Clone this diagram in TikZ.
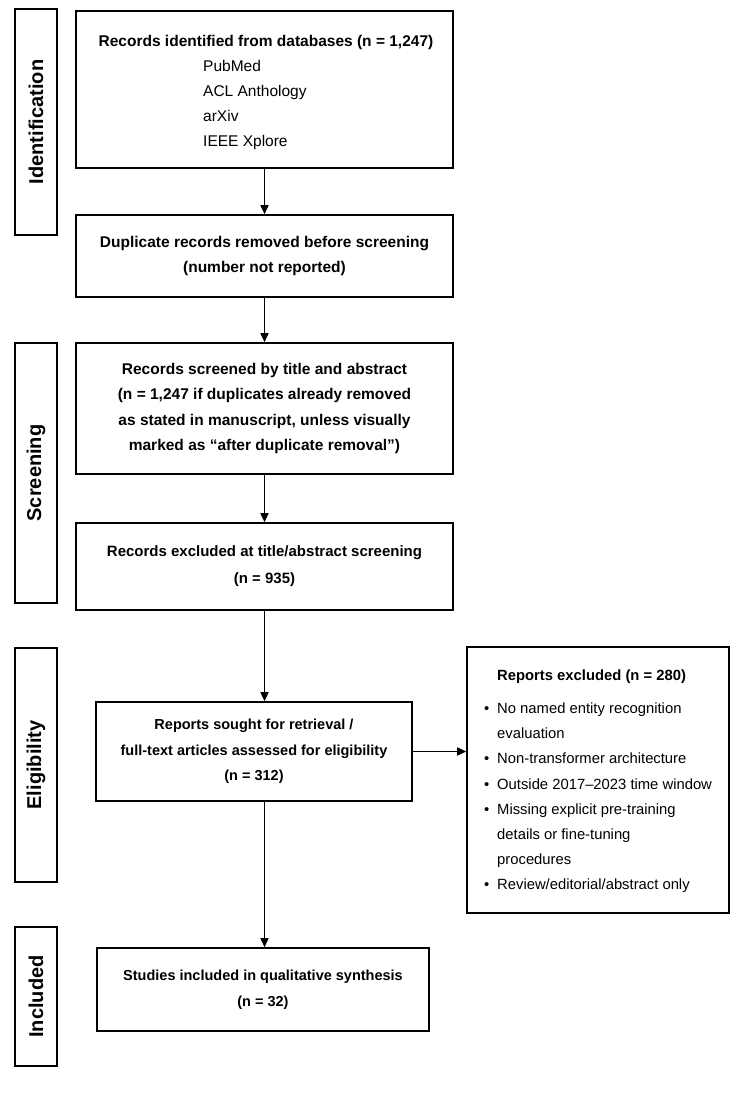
\documentclass[tikz,border=0pt]{standalone}
\usepackage{fontspec}
\setmainfont{Liberation Sans}
\usetikzlibrary{arrows.meta,positioning}
\newcommand{\boxfont}{\bfseries\fontsize{15.5}{25.5}\selectfont}
\newcommand{\smallboxfont}{\bfseries\fontsize{14.5}{25.5}\selectfont}
\newcommand{\listfont}{\fontsize{15.5}{24.7}\selectfont}
\begin{document}
\begin{tikzpicture}[x=1pt,y=-1pt,
  stage/.style={draw, line width=1.6pt, align=center, inner sep=0pt, font=\boxfont},
  phase/.style={draw, line width=1.6pt, rotate=90, minimum height=42pt, inner sep=0pt, font=\bfseries\fontsize{20}{24}\selectfont},
  arr/.style={draw, line width=1.6pt, -{Triangle[length=9pt,width=8pt]}}]
\useasboundingbox (0,0) rectangle (738,1107);

\node[phase, minimum width=226pt] (ident) at (36,122) {Identification};
\node[phase, minimum width=260pt] (screen) at (36,473) {Screening};
\node[phase, minimum width=234pt] (elig) at (36,765) {Eligibility};
\node[phase, minimum width=139pt] (incl) at (36,996.5) {Included};

\node[stage, minimum width=377pt, minimum height=157pt] (db) at (264.5,89.5) {};
\node[font=\boxfont] (dbtitle) at (266,42) {Records identified from databases (n = 1,247)};
\node[anchor=west, align=left, inner sep=0pt, font=\listfont] (dblist) at (203,105) {PubMed\\ACL Anthology\\arXiv\\IEEE Xplore};

\node[stage, minimum width=377pt, minimum height=82pt] (dup) at (264.5,256) {Duplicate records removed before screening\\(number not reported)};
\node[stage, minimum width=377pt, minimum height=131pt] (scr) at (264.5,408.5) {Records screened by title and abstract\\(n = 1,247 if duplicates already removed\\as stated in manuscript, unless visually\\marked as “after duplicate removal”)};
\node[stage, minimum width=377pt, minimum height=87pt, font=\bfseries\fontsize{15}{25.5}\selectfont] (scrx) at (264.5,566.5) {Records excluded at title/abstract screening\\[1.5pt](n = 935)};
\node[stage, minimum width=316pt, minimum height=99pt, font=\smallboxfont] (rep) at (254,751.5) {Reports sought for retrieval /\\full-text articles assessed for eligibility\\(n = 312)};
\node[stage, minimum width=332pt, minimum height=83pt, font=\smallboxfont] (inc) at (263,989.5) {Studies included in qualitative synthesis\\(n = 32)};

\node[draw, line width=1.6pt, minimum width=262pt, minimum height=266pt, inner sep=0pt, font=\fontsize{14.8}{25.2}\selectfont] (repx) at (598,780) {%
  \begin{tabular}{@{}l@{\hspace{8pt}}l@{}}
   & \textbf{Reports excluded (n = 280)}\\[8pt]
  \textbullet & No named entity recognition\\
   & evaluation\\
  \textbullet & Non-transformer architecture\\
  \textbullet & Outside 2017–2023 time window\\
  \textbullet & Missing explicit pre-training\\
   & details or fine-tuning\\
   & procedures\\
  \textbullet & Review/editorial/abstract only
  \end{tabular}};

\draw[arr] (db) -- (dup);
\draw[arr] (dup) -- (scr);
\draw[arr] (scr) -- (scrx);
\draw[arr] (scrx.south) -- (scrx.south |- rep.north);
\draw[arr] (rep.south -| scrx.south) -- (scrx.south |- inc.north);
\draw[arr] (rep.east) -- (rep.east -| repx.west);
\end{tikzpicture}
\end{document}
